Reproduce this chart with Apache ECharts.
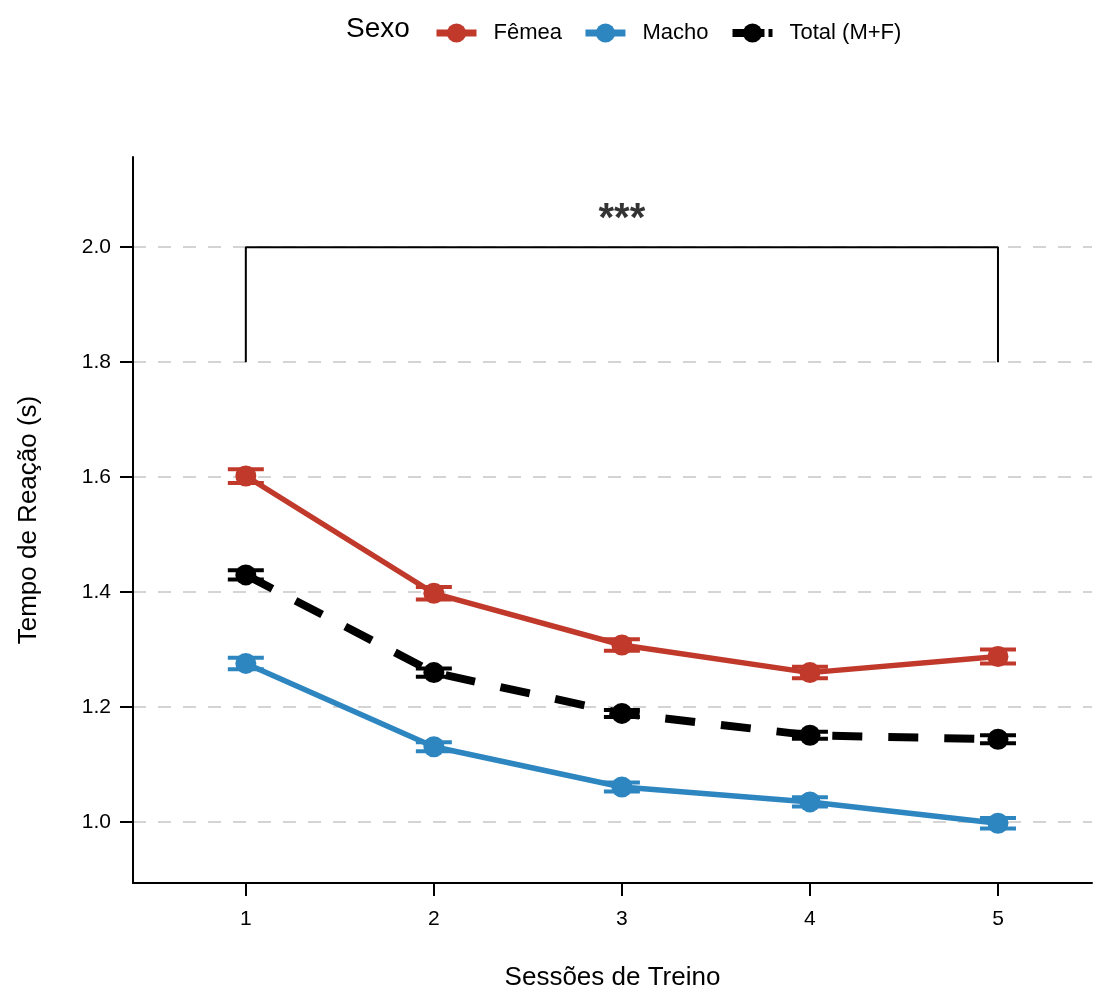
<!DOCTYPE html>
<html>
<head>
<meta charset="utf-8">
<script src="https://cdn.jsdelivr.net/npm/echarts@6/dist/echarts.min.js"></script>
<style>
  html, body { margin: 0; padding: 0; background: #fff; }
  #chart { width: 1102px; height: 996px; }
</style>
</head>
<body>
<div id="chart"></div>
<script>
// Sessions and mean reaction times (s) with standard errors
const sessions = [1, 2, 3, 4, 5];
const femeaMean = [1.602, 1.398, 1.308, 1.260, 1.288];
const femeaSE   = [0.012, 0.011, 0.010, 0.010, 0.012];
const machoMean = [1.276, 1.131, 1.061, 1.035, 0.998];
const machoSE   = [0.010, 0.008, 0.008, 0.008, 0.009];
const totalMean = [1.430, 1.260, 1.189, 1.151, 1.144];
const totalSE   = [0.008, 0.007, 0.006, 0.006, 0.007];
const yTicks = [1.0, 1.2, 1.4, 1.6, 1.8, 2.0];
const xTicks = [1, 2, 3, 4, 5];
// significance bracket between session 1 and session 5
const bracket = { from: 1, to: 5, low: 1.8, high: 2.0, text: '***' };

const RED = '#C0392B', BLUE = '#2E86C1', BLACK = '#000000';
const FONT = 'Liberation Sans, Arial, sans-serif';

function pts(means) { return sessions.map((s, i) => [s, means[i]]); }
function errData(means, se) { return sessions.map((s, i) => [s, means[i] - se[i], means[i] + se[i]]); }

function errorSeries(name, means, se, color) {
  return {
    type: 'custom',
    name: name + ' (erro padrão)',
    z: 2,
    silent: true,
    data: errData(means, se),
    renderItem: function (params, api) {
      const x = api.value(0);
      const lo = api.coord([x, api.value(1)]);
      const hi = api.coord([x, api.value(2)]);
      const hw = 18;
      const st = { stroke: color, lineWidth: 4 };
      return {
        type: 'group',
        children: [
          { type: 'line', shape: { x1: lo[0], y1: lo[1], x2: hi[0], y2: hi[1] }, style: st },
          { type: 'line', shape: { x1: lo[0] - hw, y1: lo[1], x2: lo[0] + hw, y2: lo[1] }, style: st },
          { type: 'line', shape: { x1: hi[0] - hw, y1: hi[1], x2: hi[0] + hw, y2: hi[1] }, style: st }
        ]
      };
    }
  };
}

function lineSeries(name, means, color, dashed) {
  return {
    type: 'line',
    name: name,
    z: 3,
    data: pts(means),
    symbol: 'circle',
    symbolSize: 21,
    itemStyle: { color: color },
    lineStyle: { color: color, width: dashed ? 8 : 5.5, type: dashed ? [30, 26] : 'solid', cap: 'butt' },
    emphasis: { disabled: true }
  };
}

const chart = echarts.init(document.getElementById('chart'), null, { renderer: 'canvas' });

chart.setOption({
  backgroundColor: '#ffffff',
  animation: false,
  textStyle: { fontFamily: FONT },
  grid: { left: 133, right: 10, top: 157, bottom: 109, containLabel: false },
  graphic: [
    { type: 'text', left: 346, top: 15, style: { text: 'Sexo', font: '28px ' + FONT, fill: '#000' } }
  ],
  legend: {
    left: 428,
    top: 17,
    itemWidth: 40,
    itemHeight: 24,
    itemGap: 20,
    data: [
      { name: 'Fêmea', lineStyle: { width: 7 } },
      { name: 'Macho', lineStyle: { width: 7 } },
      { name: 'Total (M+F)', lineStyle: { width: 8, type: [14, 4] } }
    ],
    textStyle: { fontSize: 22, color: '#000', fontFamily: FONT, padding: [0, 0, 0, 12] }
  },
  xAxis: {
    type: 'value',
    min: 0.4,
    max: 5.5,
    name: 'Sessões de Treino',
    nameLocation: 'middle',
    nameGap: 82,
    nameTextStyle: { fontSize: 26, color: '#000', fontFamily: FONT },
    axisLine: { show: true, onZero: false, lineStyle: { color: '#000', width: 2 } },
    axisTick: { show: true, length: 13, customValues: xTicks, lineStyle: { color: '#000', width: 2 } },
    axisLabel: { customValues: xTicks, fontSize: 21, color: '#000', margin: 26, fontFamily: FONT },
    splitLine: { show: false }
  },
  yAxis: {
    type: 'value',
    min: 0.894,
    max: 2.157,
    name: 'Tempo de Reação (s)',
    nameLocation: 'middle',
    nameGap: 91,
    nameRotate: 90,
    nameTextStyle: { fontSize: 26, color: '#000', fontFamily: FONT },
    axisLine: { show: true, onZero: false, lineStyle: { color: '#000', width: 2 } },
    axisTick: { show: true, length: 13, customValues: yTicks, lineStyle: { color: '#000', width: 2 } },
    axisLabel: { customValues: yTicks, fontSize: 21, color: '#000', margin: 22, fontFamily: FONT,
                 formatter: v => v.toFixed(1) },
    splitLine: { show: true, lineStyle: { color: '#d4d4d4', width: 2, type: [13, 12] } }
  },
  series: [
    errorSeries('Fêmea', femeaMean, femeaSE, RED),
    errorSeries('Macho', machoMean, machoSE, BLUE),
    errorSeries('Total (M+F)', totalMean, totalSE, BLACK),
    lineSeries('Fêmea', femeaMean, RED, false),
    lineSeries('Macho', machoMean, BLUE, false),
    lineSeries('Total (M+F)', totalMean, BLACK, true),
    {
      type: 'line',
      name: 'bracket',
      z: 4,
      silent: true,
      symbol: 'none',
      lineStyle: { color: '#000', width: 2 },
      data: [[bracket.from, bracket.low], [bracket.from, bracket.high], [bracket.to, bracket.high], [bracket.to, bracket.low]]
    },
    {
      type: 'scatter',
      name: 'sig',
      silent: true,
      symbolSize: 0,
      data: [[(bracket.from + bracket.to) / 2, bracket.high]],
      label: { show: true, position: 'top', distance: 7, formatter: bracket.text,
               fontSize: 40, fontWeight: 'bold', color: '#000', fontFamily: FONT }
    }
  ]
});
</script>
</body>
</html>
